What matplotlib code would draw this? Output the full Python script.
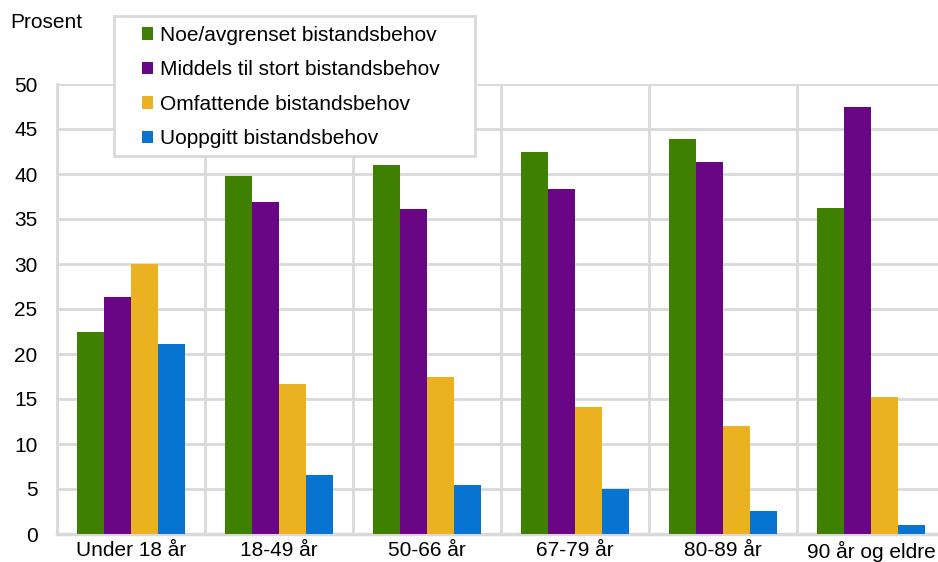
import matplotlib
matplotlib.use("Agg")
import matplotlib.pyplot as plt
from matplotlib.patches import Patch, Rectangle
import numpy as np

categories = ["Under 18 år", "18-49 år", "50-66 år", "67-79 år", "80-89 år", "90 år og eldre"]
series_names = ["Noe/avgrenset bistandsbehov", "Middels til stort bistandsbehov",
                "Omfattende bistandsbehov", "Uoppgitt bistandsbehov"]
noe = [22.4, 39.8, 41.0, 42.4, 43.9, 36.2]
middels = [26.3, 36.9, 36.1, 38.3, 41.3, 47.5]
omfattende = [30.0, 16.7, 17.5, 14.1, 12.0, 15.2]
uoppgitt = [21.1, 6.6, 5.4, 5.0, 2.6, 1.0]
yticks = [0, 5, 10, 15, 20, 25, 30, 35, 40, 45, 50]

colors = ["#408000", "#680686", "#EAB221", "#0874D1"]
grid_c = "#d9d9d9"

plt.rcParams['font.family'] = ['Liberation Sans', 'DejaVu Sans']
FS = 15

W, H = 938, 562
fig = plt.figure(figsize=(W / 100, H / 100), dpi=100)
left, right, top, bottom = 57, 945, 84, 534
ax = fig.add_axes([left / W, 1 - bottom / H, (right - left) / W, (bottom - top) / H])

x = np.arange(len(categories))
bw = 0.181
data = [noe, middels, omfattende, uoppgitt]
for i, (vals, c) in enumerate(zip(data, colors)):
    ax.bar(x + (i - 1.5) * bw, vals, width=bw, color=c, zorder=3, linewidth=0)

ax.set_xlim(-0.5, len(categories) - 0.5)
ax.set_ylim(0, 50)
ax.set_yticks(yticks)
ax.set_yticklabels([str(v) for v in yticks], fontsize=FS)
ax.set_xticks(x)
ax.set_xticklabels(categories, fontsize=FS)
ax.tick_params(axis='both', length=0, colors='black')
ax.tick_params(axis='y', pad=14)
ax.tick_params(axis='x', pad=5)

for yv in yticks[1:]:
    ax.axhline(yv, color=grid_c, lw=2, zorder=1)
for xv in np.arange(-0.5, len(categories) + 0.5, 1):
    ax.axvline(xv, color=grid_c, lw=2, zorder=1)
for s in ['top', 'right']:
    ax.spines[s].set_visible(False)
ax.spines['left'].set_color(grid_c)
ax.spines['left'].set_linewidth(2)
ax.spines['bottom'].set_color(grid_c)
ax.spines['bottom'].set_linewidth(2.5)

fig.text(10 / W, 1 - 23 / H, "Prosent", fontsize=FS, va='center', ha='left')

# legend frame
lx0, ly0, lx1, ly1 = 114, 16, 475, 156
fig.patches.append(Rectangle((lx0 / W, 1 - ly1 / H), (lx1 - lx0) / W, (ly1 - ly0) / H,
                             transform=fig.transFigure, facecolor='white',
                             edgecolor=grid_c, linewidth=2, zorder=5))
handles = [Patch(facecolor=c, edgecolor='none') for c in colors]
leg = fig.legend(handles, series_names, loc='upper left',
                 bbox_to_anchor=(142 / W, 1 - 26 / H),
                 fontsize=FS, frameon=False,
                 handlelength=0.55, handleheight=0.55, handletextpad=0.3,
                 labelspacing=0.74, borderpad=0, borderaxespad=0)
leg.set_zorder(6)

fig.savefig("out.png", dpi=100)
